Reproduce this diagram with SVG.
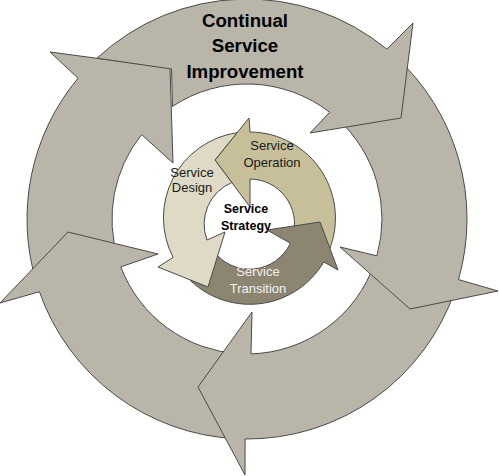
<svg xmlns="http://www.w3.org/2000/svg" width="499" height="476" viewBox="0 0 499 476">
<style>
.outer{fill:#b9b6a9;stroke:#4a4a4a;stroke-width:1;stroke-linejoin:miter}
.inner{stroke:#4a4a4a;stroke-width:1}
.op{fill:#c6bf99}
.tr{fill:#8c8571}
.de{fill:#dedac5}
.t{font-family:"Liberation Sans",Arial,sans-serif;text-anchor:middle}
.big{font-size:18.67px;font-weight:bold;fill:#000}
.lbl{font-size:13px;fill:#1a1a1a}
.str{font-size:12.5px;font-weight:bold;fill:#000}
.wh{fill:#f2f2f2}
</style>
<rect width="499" height="476" fill="#fff"/>
<g id="csi-left">
<path class="outer" d="M36.6,283.3 A220,220 0 0 1 78,78.2 L50,52 L170,68 L173,163 L141.6,134.6 A135,135 0 0 0 117.9,258.5 Z"/>
</g>
<g id="csi-bottom-left">
<path class="outer" d="M235.5,438.7 A220,220 0 0 1 39.4,291.7 L0,303 L68,232 L158,254 L120.8,266.9 A135,135 0 0 0 239.9,353.8 Z"/>
</g>
<g id="csi-bottom">
<path class="outer" d="M455,290.6 A220,220 0 0 1 245.1,439 L245,475 L198,387 L252,312 L251,353.9 A135,135 0 0 0 374.6,263 Z"/>
</g>
<g id="csi-right">
<path class="outer" d="M394.2,55.5 A220,220 0 0 1 458.5,279.6 L498,291 L410,309 L340,247 L376.9,255.8 A135,135 0 0 0 337.3,118.7 Z"/>
</g>
<g id="csi-top">
<path class="outer" d="M97,58.2 A220,220 0 0 1 386.9,49.2 L413,23 L401,118 L310,133 L329.7,112.3 A135,135 0 0 0 172.5,106.4 L171.5,69 Z"/>
<text class="t big" x="245" y="27">Continual</text>
<text class="t big" x="245" y="52">Service</text>
<text class="t big" x="245" y="77.5">Improvement</text>
</g>
<g id="service-operation">
<path class="inner op" d="M327.4,254.3 A86,86 0 0 0 250,132 L249,118 L215,160 L250,207 L250,179 A45,45 0 0 1 293,235.6 Z"/>
</g>
<g id="service-transition">
<path class="inner tr" d="M179.9,268.5 A86,86 0 0 0 323.8,262 L338,270 L320,222 L267,230 L290.4,243.2 A45,45 0 0 1 213.1,250.5 Z"/>
</g>
<g id="service-design">
<path class="inner de" d="M231.8,182.6 L215,160 L237.1,132.7 A86,86 0 0 0 173.1,257.4 L158,267 L208,287 L225,232 L207,240 A45,45 0 0 1 231.8,182.6 Z"/>
</g>
<g id="labels">
<text class="t lbl" x="192" y="177">Service</text>
<text class="t lbl" x="192" y="192">Design</text>
<text class="t lbl" x="272" y="150">Service</text>
<text class="t lbl" x="272" y="167">Operation</text>
<text class="t lbl wh" x="258" y="276">Service</text>
<text class="t lbl wh" x="258" y="293">Transition</text>
</g>
<g id="service-strategy">
<text class="t str" x="246" y="213">Service</text>
<text class="t str" x="246" y="230">Strategy</text>
</g>
<g id="connectors"></g>
</svg>
